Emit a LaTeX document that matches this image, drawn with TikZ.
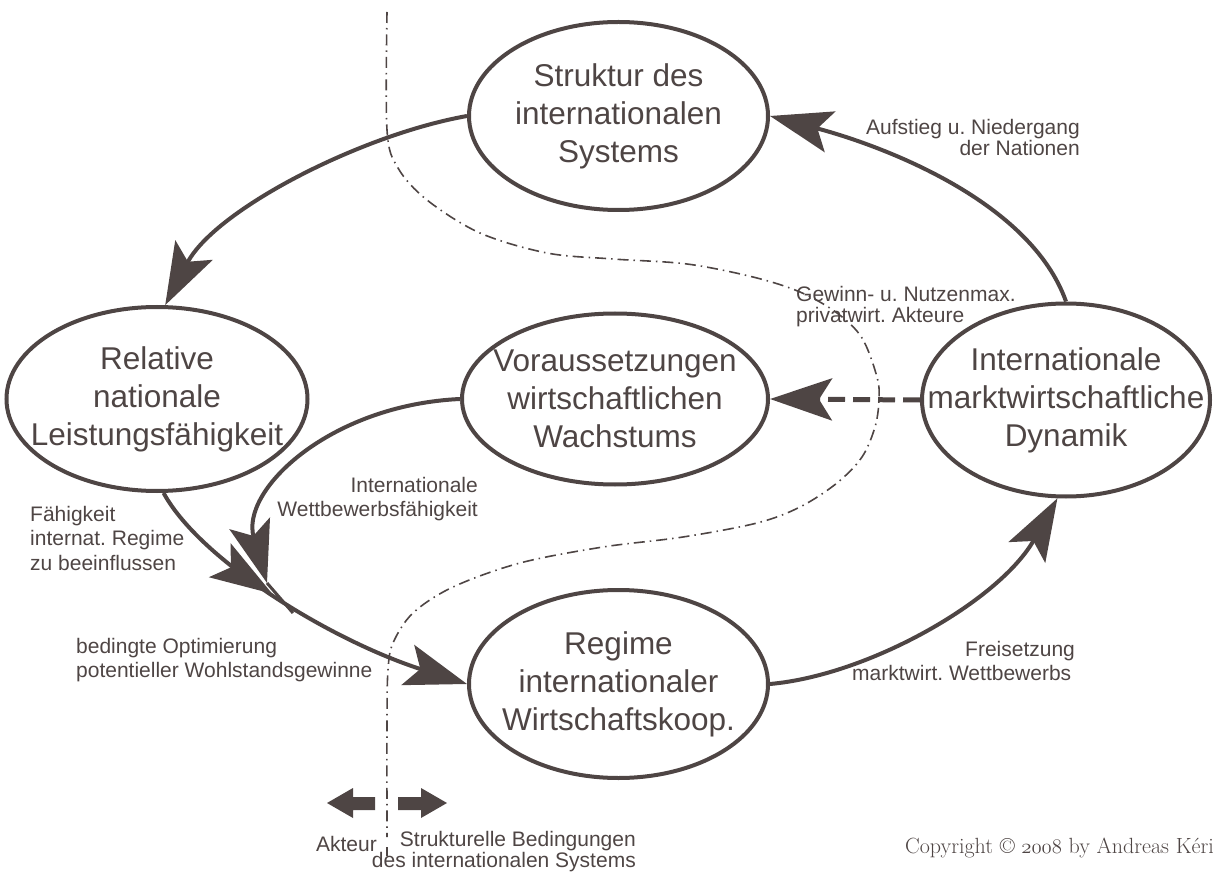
\documentclass[tikz,border=0pt]{standalone}
\usepackage{fontspec}
\setmainfont{Liberation Sans}
\usetikzlibrary{shapes.geometric,arrows.meta,decorations.markings}
\definecolor{ink}{RGB}{78,69,68}
\frenchspacing
\newcommand{\osnum}[1]{{\usefont{OML}{cmm}{m}{it}#1}}
\begin{document}
\begin{tikzpicture}[x=1pt,y=-1pt,
  every node/.style={text=ink},
  ell/.style={ellipse, draw=ink, line width=4pt, inner sep=0pt},
  etext/.style={align=center, inner sep=0pt, text=ink, font=\fontsize{31.5}{38}\selectfont},
  lbl/.style={inner sep=0pt, font=\fontsize{21}{24.5}\selectfont},
  lbltight/.style={inner sep=0pt, font=\fontsize{21}{21}\selectfont},
  conn/.style={color=ink, line width=4pt},
  arr/.style={-{Stealth[length=62pt,width=42pt,inset=13pt]}},
  midarr/.style={postaction={decorate}, decoration={markings,
      mark=at position 0.41 with {\arrow{Stealth[length=62pt,width=40pt,inset=13pt]}}}},
  dashconn/.style={color=ink, line width=5pt, dash pattern=on 17pt off 8pt},
  divider/.style={color=ink, line width=1.6pt, dash pattern=on 11pt off 5pt on 1.5pt off 5pt}
]
\path[use as bounding box] (0,0) rectangle (1223,874);

% ellipses
\node[ell, minimum width=299pt, minimum height=188pt,
  label={[etext]center:{Struktur des\\internationalen\\Systems}}] (S) at (618.5,116) {};
\node[ell, minimum width=301pt, minimum height=184pt,
  label={[etext]center:{Relative\\nationale\\Leistungsfähigkeit}}] (R) at (157,399) {};
\node[ell, minimum width=306pt, minimum height=171pt,
  label={[etext]center:{Voraussetzungen\\wirtschaftlichen\\Wachstums}}] (V) at (615,399) {};
\node[ell, minimum width=288pt, minimum height=193pt,
  label={[etext]center:{Internationale\\marktwirtschaftliche\\Dynamik}}] (D) at (1066,400) {};
\node[ell, minimum width=299pt, minimum height=188pt,
  label={[etext]center:{Regime\\internationaler\\Wirtschaftskoop.}}] (G) at (618.5,684) {};

% divider line (dash-dot)
\draw[divider] plot[smooth, tension=0.55] coordinates {(387,12) (387,130) (398,168) (427,200) (480,233) (547,253) (613,259) (687,264) (753,277) (800,292) (837,313) (862,338) (877,377) (879,400) (875,427) (862,457) (837,483) (800,507) (757,523) (683,537) (603,547) (520,563) (453,587) (413,613) (393,643) (388,670) (387,720) (387,837)};
\draw[divider] (387,847) -- (387,856);

% connectors
\draw[conn, arr] (S.180) .. controls (360,135) and (215,210) .. (R.85);
\draw[conn, arr] (D.90) .. controls (1030,200) and (880,145) .. (S.0);
\draw[dashconn, arr] (D.180) -- (V.0);
\draw[conn, arr] (G.0) .. controls (870,675) and (1000,600) .. (D.265);
\draw[conn, arr, midarr] (R.274) .. controls (200,560) and (330,640) .. (G.180);

\coordinate (vtip) at (267,583);
\coordinate (vmerge) at (293,613);
\draw[white, line width=9pt, -{Stealth[length=67pt,width=48pt,inset=14pt]}] (V.180) .. controls (330,405) and (240,490) .. (vtip);
\draw[conn, arr] (V.180) .. controls (330,405) and (240,490) .. (vtip);
\draw[conn, line width=3pt] (vtip) -- (vmerge);

% labels
\node[lbltight, align=right, anchor=east] (l1) at (1080,137) {Aufstieg u. Niedergang\\der Nationen};
\node[lbltight, align=left, anchor=west] (l2) at (796,307) {Gewinn- u. Nutzenmax.\\privatwirt. Akteure};
\node[lbl, align=right, anchor=east] (l3) at (478,499) {Internationale\\Wettbewerbsfähigkeit};
\node[lbl, align=left, anchor=west] (l4) at (30,538) {Fähigkeit\\internat. Regime\\zu beeinflussen};
\node[lbl, align=left, anchor=west] (l5) at (76,660) {bedingte Optimierung\\potentieller Wohlstandsgewinne};
\node[lbl, align=left, anchor=west] (l6) at (852,661) {\hspace*{113pt}Freisetzung\\marktwirt. Wettbewerbs};

% bottom direction arrows
\fill[ink] (327,803) -- (353,788) -- (353,797) -- (375,797) -- (375,810) -- (353,810) -- (353,818) -- cycle;
\fill[ink] (447,803) -- (421,788) -- (421,797) -- (398,797) -- (398,810) -- (421,810) -- (421,818) -- cycle;
\node[lbltight, anchor=east] (akt) at (377,844) {Akteur};
\node[lbltight, align=right, anchor=east] (strk) at (636,852) {Strukturelle Bedingungen\\des internationalen Systems};

% copyright
\node[inner sep=0pt, anchor=east, font=\fontfamily{lmr}\selectfont\fontsize{22}{26}\selectfont] (copy) at (1214,848) {Copyright \textcopyright{} \osnum{2008} by Andreas Kéri};
\end{tikzpicture}
\end{document}
